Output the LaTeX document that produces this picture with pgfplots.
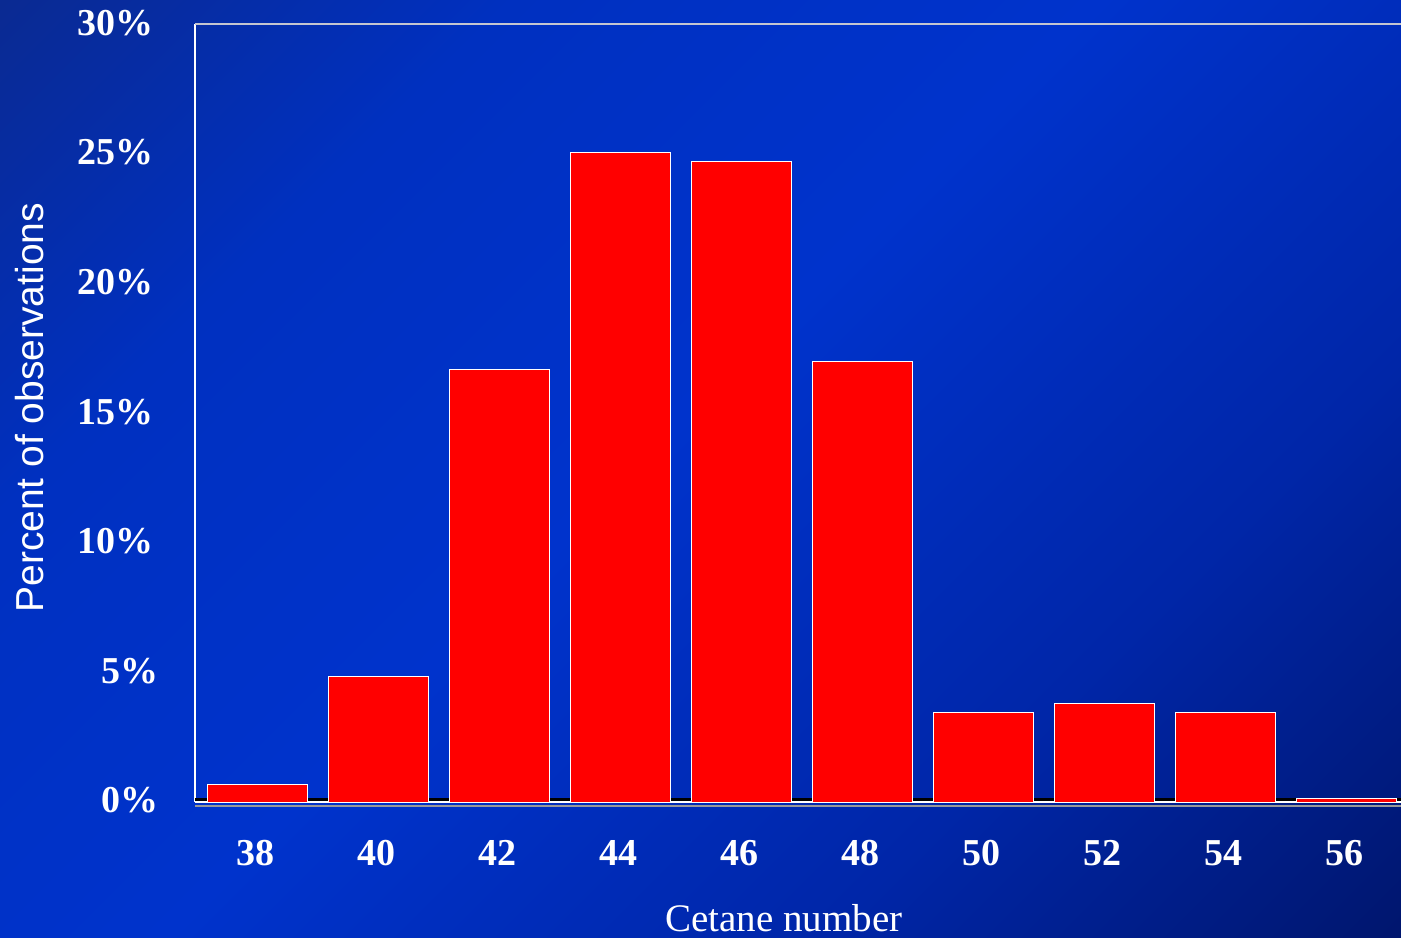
\documentclass[border=0pt]{standalone}
\usepackage{pgfplots}
\pgfplotsset{compat=1.18}
\usepackage{fontspec}
\setmainfont{Liberation Serif}
\newfontfamily\arialfont{Liberation Sans}
\definecolor{bgBR}{HTML}{00166E}
\definecolor{bgB2}{HTML}{0026A8}
\definecolor{bgMid}{HTML}{0033CC}
\definecolor{bgM2}{HTML}{0030C0}
\definecolor{bgTL}{HTML}{0A2A92}
\definecolor{barred}{HTML}{FF0000}
\definecolor{topline}{HTML}{C4C6D0}
\pgfdeclareverticalshading{bgshade}{100bp}{color(0bp)=(bgBR); color(14.6bp)=(bgBR); color(32bp)=(bgB2); color(52bp)=(bgMid); color(70bp)=(bgM2); color(85.4bp)=(bgTL); color(100bp)=(bgTL)}
\begin{document}
\begin{tikzpicture}
\useasboundingbox (0,0) rectangle (700.5pt,468.5pt);
\shade[shading=bgshade, shading angle=45] (0,0) rectangle (700.5pt,468.5pt);
\begin{axis}[
  at={(97.5pt,67.5pt)}, anchor=south west,
  scale only axis, width=603pt, height=388.75pt,
  xmin=-0.512, xmax=9.447, ymin=0, ymax=30,
  clip=false,
  axis x line*=bottom, axis y line*=left,
  x axis line style={draw=white, line width=0.8pt},
  y axis line style={draw=white, line width=1pt},
  major tick length=0pt,
  xtick={0,1,2,3,4,5,6,7,8,9},
  xticklabels={38,40,42,44,46,48,50,52,54,56},
  ytick={0,5,10,15,20,25,30},
  yticklabels={0\%\hspace*{-2.5pt},5\%\hspace*{-2.5pt},10\%,15\%,20\%,25\%,30\%},
  xticklabel style={font=\bfseries\fontsize{19}{19}\selectfont, text=white, anchor=north, inner sep=0pt, yshift=-19pt, xshift=-1pt},
  yticklabel style={font=\bfseries\fontsize{19}{19}\selectfont, text=white, anchor=east, inner sep=0pt, xshift=-20.5pt, yshift=0.8pt},
  xlabel={Cetane number},
  xlabel style={font=\fontsize{19.5}{19.5}\selectfont, text=white, at={(axis description cs:0.4884,-0.149)}, anchor=center},
  ylabel={Percent of observations},
  ylabel style={font=\arialfont\fontsize{19.5}{19.5}\selectfont, text=white, at={(axis description cs:-0.1372,0.507)}, anchor=center},
]
\draw[black, line width=1.5pt] ([yshift=1.3pt]rel axis cs:0,0) -- ([yshift=1.3pt]rel axis cs:1,0);
\draw[topline, line width=1pt] (rel axis cs:0,1) -- (rel axis cs:1,1);
\draw[gray!80, line width=0.6pt] ([yshift=-2pt]rel axis cs:0,0) -- ([yshift=-2pt]rel axis cs:1,0);
\addplot[ybar, bar width=50pt, fill=barred, draw=white, line width=0.5pt] coordinates {
(0,0.66) (1,4.86) (2,16.67) (3,25.08) (4,24.73) (5,17.01) (6,3.47) (7,3.82) (8,3.47) (9,0.12)
};
\end{axis}
\end{tikzpicture}
\end{document}
